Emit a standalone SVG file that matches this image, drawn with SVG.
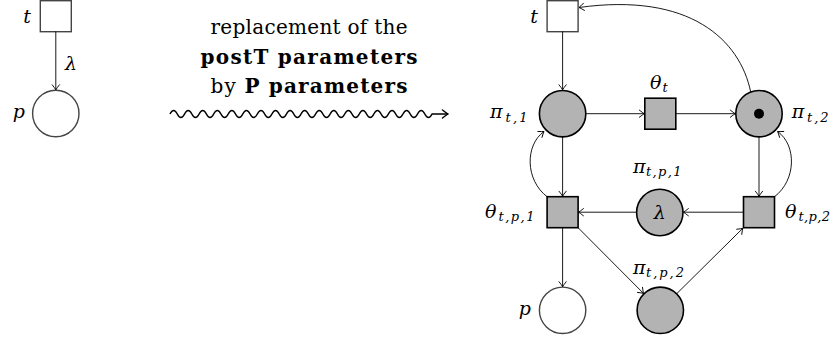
<svg xmlns="http://www.w3.org/2000/svg" width="837" height="340" viewBox="0 0 837 340">
<style>
  .white { fill: #ffffff; stroke: #444444; stroke-width: 1.4; }
  .grey { fill: #b3b3b3; stroke: #000000; stroke-width: 1.6; }
  .edge { fill: none; stroke: #000000; stroke-width: 0.9; marker-end: url(#arr); }
  .m { font-family: "DejaVu Serif", "Liberation Serif", serif; font-style: italic; font-size: 19px; fill: #000; }
  .s { font-family: "DejaVu Serif", "Liberation Serif", serif; font-style: italic; font-size: 13px; fill: #000; }
  .t { font-family: "DejaVu Serif", "Liberation Serif", serif; font-size: 20px; fill: #000; }
</style>
<defs>
  <marker id="arr" viewBox="-7 -5 8 10" refX="0" refY="0" markerWidth="8" markerHeight="10" markerUnits="userSpaceOnUse" orient="auto">
    <path d="M-5,-3.6 Q-1.6,-0.9 0,0 Q-1.6,0.9 -5,3.6" fill="none" stroke="#000" stroke-width="0.9" stroke-linecap="round"/>
  </marker>
  <marker id="arrBig" viewBox="-8 -6 9 12" refX="0" refY="0" markerWidth="9" markerHeight="12" markerUnits="userSpaceOnUse" orient="auto">
    <path d="M-5.5,-4 Q-1.8,-1 0,0 Q-1.8,1 -5.5,4" fill="none" stroke="#000" stroke-width="1.4" stroke-linecap="round"/>
  </marker>
</defs>

<!-- Left net -->
<g id="left-t">
  <rect class="white" x="40.3" y="0.7" width="31" height="31"/>
  <text class="m" x="31" y="23" text-anchor="end">t</text>
</g>
<g id="left-p">
  <circle class="white" cx="55.8" cy="113.5" r="23.2"/>
  <text class="m" x="25" y="118" text-anchor="end">p</text>
</g>
<g id="left-connectors">
  <path class="edge" d="M55.8,31.5 L55.8,89.8"/>
  <text class="m" x="65" y="70">λ</text>
</g>

<!-- Middle caption and squiggle -->
<g id="caption">
  <text class="t" x="309" y="34" text-anchor="middle" textLength="197" lengthAdjust="spacing">replacement of the</text>
  <text class="t" x="309" y="64" text-anchor="middle" font-weight="bold" textLength="217" lengthAdjust="spacing">postT parameters</text>
  <text class="t" x="309" y="93" text-anchor="middle" textLength="197" lengthAdjust="spacing">by <tspan font-weight="bold">P parameters</tspan></text>
</g>
<g id="squiggle">
  <path fill="none" stroke="#000" stroke-width="1.5" marker-end="url(#arrBig)" d="M170,114 q3.64,-7 7.28,0 t7.28,0 t7.28,0 t7.28,0 t7.28,0 t7.28,0 t7.28,0 t7.28,0 t7.28,0 t7.28,0 t7.28,0 t7.28,0 t7.28,0 t7.28,0 t7.28,0 t7.28,0 t7.28,0 t7.28,0 t7.28,0 t7.28,0 t7.28,0 t7.28,0 t7.28,0 t7.28,0 t7.28,0 t7.28,0 t7.28,0 t7.28,0 t7.28,0 t7.28,0 t7.28,0 t7.28,0 t7.28,0 t7.28,0 t7.28,0 t7.28,0 L448,114"/>
</g>

<!-- Right net -->
<g id="t">
  <rect class="white" x="547.1" y="0.7" width="31" height="31"/>
  <text class="m" x="538" y="23" text-anchor="end">t</text>
</g>
<g id="pi-t-1">
  <circle class="grey" cx="562.6" cy="113.7" r="23.2"/>
  <text class="m" x="490" y="118">π</text>
  <text class="s" x="505.5" y="121.5" textLength="22" lengthAdjust="spacing">t,1</text>
</g>
<g id="theta-t">
  <rect class="grey" x="644.8" y="98.2" width="31" height="31"/>
  <text class="m" x="650" y="89">θ</text>
  <text class="s" x="662.5" y="92">t</text>
</g>
<g id="pi-t-2">
  <circle class="grey" cx="759" cy="113.7" r="23.2"/>
  <circle cx="759" cy="113.7" r="5" fill="#000"/>
  <text class="m" x="791.7" y="118">π</text>
  <text class="s" x="807" y="121.5" textLength="21.5" lengthAdjust="spacing">t,2</text>
</g>
<g id="pi-t-p-1">
  <circle class="grey" cx="659.8" cy="212.5" r="23.2"/>
  <text class="m" x="659.8" y="219" text-anchor="middle">λ</text>
  <text class="m" x="633" y="173">π</text>
  <text class="s" x="646" y="176" textLength="35.5" lengthAdjust="spacing">t,p,1</text>
</g>
<g id="theta-t-p-1">
  <rect class="grey" x="547.1" y="196.7" width="31" height="31"/>
  <text class="m" x="485" y="218">θ</text>
  <text class="s" x="498.5" y="221" textLength="36" lengthAdjust="spacing">t,p,1</text>
</g>
<g id="theta-t-p-2">
  <rect class="grey" x="743.5" y="196.7" width="31" height="31"/>
  <text class="m" x="785" y="218">θ</text>
  <text class="s" x="798.5" y="221" textLength="31.5" lengthAdjust="spacing">t,p,2</text>
</g>
<g id="p">
  <circle class="white" cx="562.6" cy="310.3" r="23.2"/>
  <text class="m" x="531" y="315" text-anchor="end">p</text>
</g>
<g id="pi-t-p-2">
  <circle class="grey" cx="660.3" cy="310.3" r="23.2"/>
  <text class="m" x="633" y="274">π</text>
  <text class="s" x="646" y="277" textLength="38" lengthAdjust="spacing">t,p,2</text>
</g>

<g id="connectors">
  <path class="edge" d="M562.6,31.5 L562.6,89.8"/>
  <path class="edge" d="M585.9,113.7 L644.3,113.7"/>
  <path class="edge" d="M675.9,113.7 L735.3,113.7"/>
  <path class="edge" d="M750.7,92 C740,40 690,-8 579,7.5"/>
  <path class="edge" d="M562.6,137 L562.6,196.2"/>
  <path class="edge" d="M547.3,196.9 C525,180 525,145 544,131.5"/>
  <path class="edge" d="M759,137 L759,196.2"/>
  <path class="edge" d="M774.3,196.9 C796.6,180 796.6,145 777.6,131.5"/>
  <path class="edge" d="M743.3,212.2 L683.4,212.2"/>
  <path class="edge" d="M636.4,212.2 L578.5,212.2"/>
  <path class="edge" d="M562.6,227.9 L562.6,286.7"/>
  <path class="edge" d="M578.3,227.9 L643.5,293.4"/>
  <path class="edge" d="M676.8,293.6 L742.8,228.3"/>
</g>
</svg>
